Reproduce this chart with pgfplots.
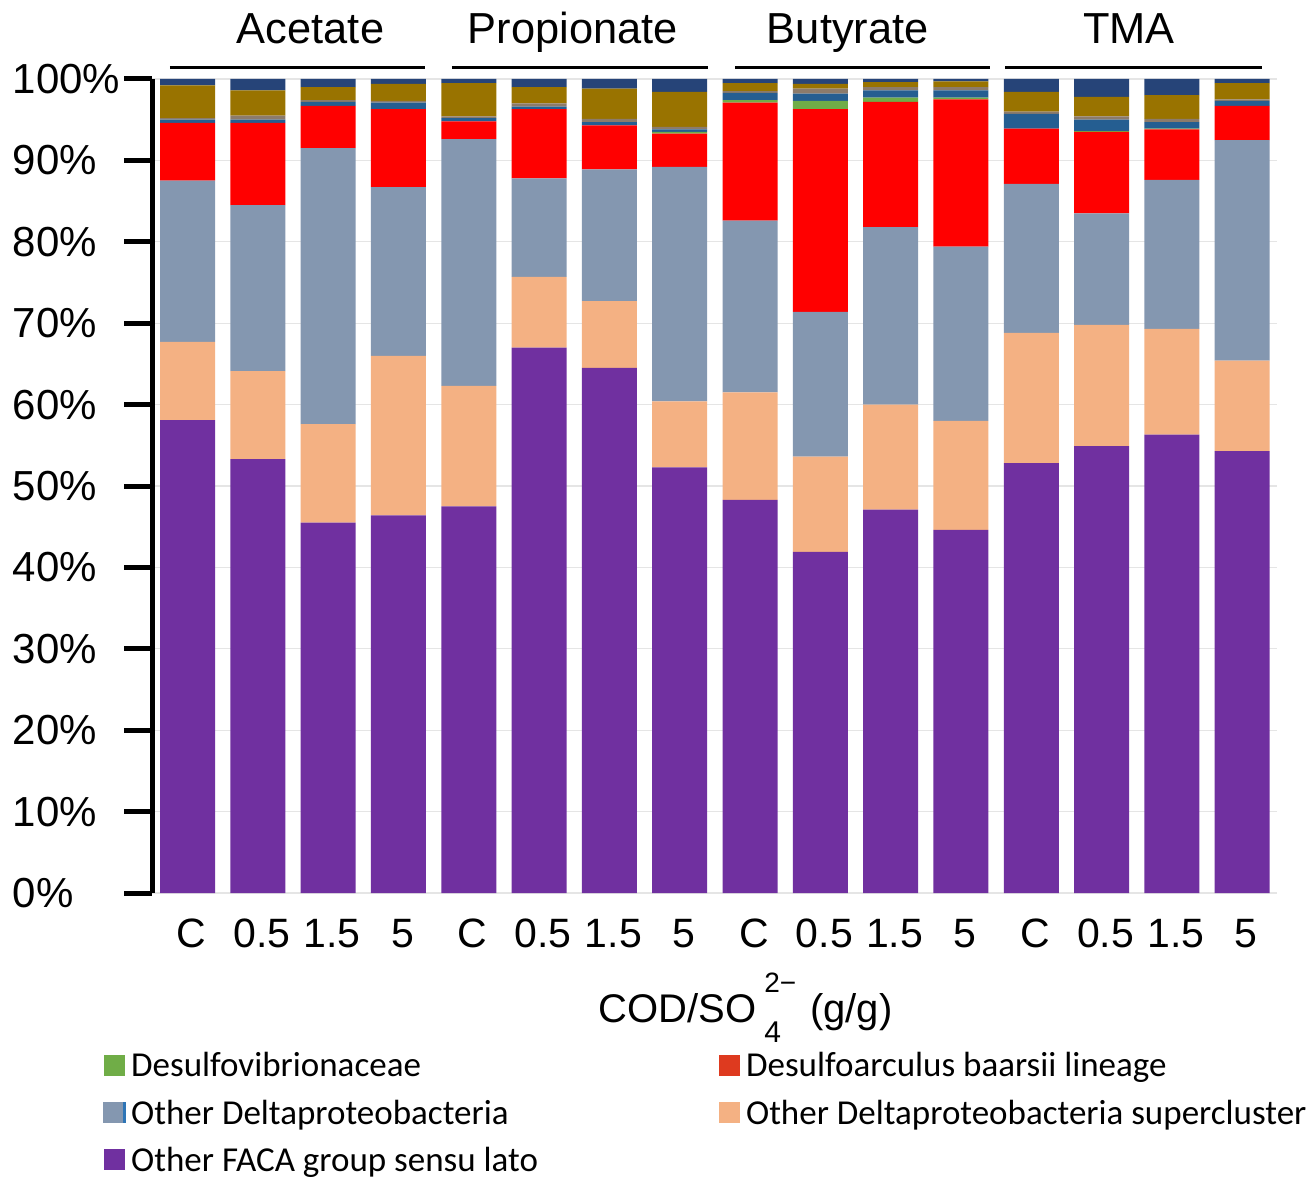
\documentclass[border=0pt]{standalone}
\usepackage{pgfplots}
\pgfplotsset{compat=1.18}
\usepackage{pgfplotstable}
\usepackage{fontspec}
\setmainfont{Liberation Sans}
\newfontfamily\legendfont{Carlito}

\definecolor{cFACA}{HTML}{7030A0}
\definecolor{cSup}{HTML}{F4B183}
\definecolor{cDelta}{HTML}{8497B0}
\definecolor{cArc}{HTML}{FF0000}
\definecolor{cArcLeg}{HTML}{DE3A1F}
\definecolor{cVib}{HTML}{70AD47}
\definecolor{cBlue}{HTML}{255E91}
\definecolor{cBrown}{HTML}{8C7B6B}
\definecolor{cOlive}{HTML}{997300}
\definecolor{cNavy}{HTML}{264478}
\definecolor{cEdge}{HTML}{2E75B6}

% relative abundance (%) per sample, bottom segment first
\pgfplotstableread{
x faca sup delta arc vib blue brown olive navy
0  58.1  9.6 19.8  7.1 0.0 0.4 0.2 4.0 0.8
1  53.3 10.8 20.4 10.1 0.0 0.4 0.5 3.1 1.4
2  45.5 12.1 33.9  5.2 0.0 0.5 0.2 1.6 1.0
3  46.4 19.6 20.7  9.6 0.0 0.8 0.2 2.1 0.6
4  47.5 14.8 30.3  2.2 0.0 0.4 0.2 4.1 0.5
5  67.0  8.7 12.1  8.5 0.0 0.3 0.4 2.0 1.0
6  64.5  8.2 16.2  5.4 0.0 0.4 0.4 3.7 1.2
7  52.3  8.1 28.8  4.1 0.2 0.3 0.3 4.3 1.6
8  48.3 13.2 21.1 14.5 0.3 0.9 0.2 1.0 0.5
9  41.9 11.7 17.8 24.9 1.0 0.9 0.6 0.6 0.6
10 47.1 12.9 21.8 15.4 0.5 0.9 0.4 0.6 0.4
11 44.6 13.4 21.4 18.1 0.2 0.9 0.4 0.7 0.3
12 52.8 16.0 18.3  6.8 0.0 1.8 0.3 2.4 1.6
13 54.9 14.9 13.7 10.0 0.1 1.4 0.4 2.4 2.2
14 56.3 13.0 18.3  6.2 0.1 0.8 0.4 2.9 2.0
15 54.3 11.1 27.1  4.2 0.0 0.6 0.2 2.0 0.5
}\abund

\pgfplotsset{
  swatch/.style={legend image code/.code={\fill[#1] (0pt,-4.5pt) rectangle (10pt,5.5pt);\path (11pt,0pt);}},
}

\begin{document}
\begin{tikzpicture}
\begin{axis}[
  scale only axis,
  width=562.4pt, height=407pt,
  xmin=-0.5, xmax=15.5, ymin=0, ymax=100,
  ybar stacked, bar width=27.5pt,
  clip=false,
  axis y line*=left, axis x line*=bottom,
  x axis line style={draw=none},
  y axis line style={line width=2.5pt},
  xtick=data,
  xticklabels={C,0.5,1.5,5,C,0.5,1.5,5,C,0.5,1.5,5,C,0.5,1.5,5},
  xtick style={draw=none},
  xticklabel style={font=\fontsize{20.5}{24}\selectfont, yshift=4.5pt, xshift=2pt},
  ytick={0,10,...,100},
  yticklabels={0\%,10\%,20\%,30\%,40\%,50\%,60\%,70\%,80\%,90\%,100\%},
  yticklabel style={font=\fontsize{21}{24}\selectfont, anchor=west, inner sep=0pt, xshift=-56pt},
  ytick style={line width=2.5pt, black},
  tick align=outside, major tick length=14pt,
  ymajorgrids, grid style={black!10, line width=0.6pt},
  legend columns=2,
  legend cell align=left,
  legend style={at={(axis description cs:-0.0439,-0.1905)}, anchor=north west,
    draw=none, fill=none, inner sep=0pt,
    font=\legendfont\fontsize{17.5}{20}\selectfont,
    row sep=6pt,
    /tikz/every even column/.append style={column sep=0pt}},
]
\addplot[fill=cFACA,  draw=none, forget plot] table[x=x, y=faca]  {\abund};
\addplot[fill=cSup,   draw=none, forget plot] table[x=x, y=sup]   {\abund};
\addplot[fill=cDelta, draw=none, forget plot] table[x=x, y=delta] {\abund};
\addplot[fill=cArc,   draw=none, forget plot] table[x=x, y=arc]   {\abund};
\addplot[fill=cVib,   draw=none, forget plot] table[x=x, y=vib]   {\abund};
\addplot[fill=cBlue,  draw=none, forget plot] table[x=x, y=blue]  {\abund};
\addplot[fill=cBrown, draw=none, forget plot] table[x=x, y=brown] {\abund};
\addplot[fill=cOlive, draw=none, forget plot] table[x=x, y=olive] {\abund};
\addplot[fill=cNavy,  draw=none, forget plot] table[x=x, y=navy]  {\abund};

\addlegendimage{swatch=cVib}
\addlegendentry{\makebox[292pt][l]{Desulfovibrionaceae}}
\addlegendimage{swatch=cArcLeg}
\addlegendentry{Desulfoarculus baarsii lineage}
\addlegendimage{legend image code/.code={\fill[cDelta] (-0.5pt,-4.5pt) rectangle (9.5pt,5.5pt);\fill[cEdge] (9.5pt,-4.5pt) rectangle (10.5pt,5.5pt);\path (11pt,0pt);}}
\addlegendentry{\makebox[292pt][l]{Other Deltaproteobacteria}}
\addlegendimage{swatch=cSup}
\addlegendentry{Other Deltaproteobacteria supercluster}
\addlegendimage{swatch=cFACA}
\addlegendentry{\makebox[292pt][l]{Other FACA group sensu lato}}

% substrate group headers
\draw[line width=1.5pt] (axis cs:-0.25,101.35) -- (axis cs:3.38,101.35);
\draw[line width=1.5pt] (axis cs:3.76,101.35) -- (axis cs:7.40,101.35);
\draw[line width=1.5pt] (axis cs:7.79,101.35) -- (axis cs:11.41,101.35);
\draw[line width=1.5pt] (axis cs:11.63,101.35) -- (axis cs:15.28,101.35);
\node[font=\fontsize{21.7}{24}\selectfont, anchor=base] at (axis cs:1.75,104.3) {Acetate};
\node[font=\fontsize{21.7}{24}\selectfont, anchor=base] at (axis cs:5.48,104.3) {Propionate};
\node[font=\fontsize{21.7}{24}\selectfont, anchor=base] at (axis cs:9.39,104.3) {Butyrate};
\node[font=\fontsize{21.7}{24}\selectfont, anchor=base] at (axis cs:13.39,104.3) {TMA};

% axis title
\node[font=\fontsize{20}{24}\selectfont, anchor=base west, inner sep=0pt] at (axis cs:5.84,-15.85)
  {COD/SO\hspace{4pt}\makebox[0pt][l]{\raisebox{-10pt}{\fontsize{15}{15}\selectfont 4}}\raisebox{15pt}{\fontsize{14}{14}\selectfont 2−}\hspace{7pt}(g/g)};

% page extent
\path (axis cs:-2.667,-35.26) (axis cs:16.05,109.7);
\end{axis}
\end{tikzpicture}
\end{document}
